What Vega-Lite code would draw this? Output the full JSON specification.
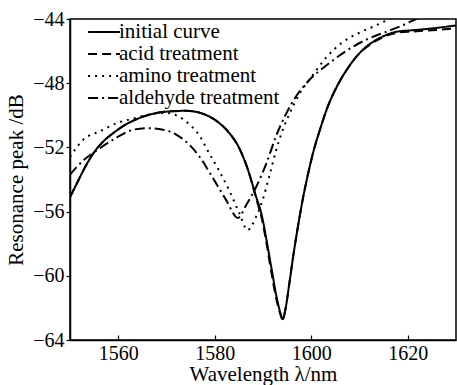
{
  "$schema": "https://vega.github.io/schema/vega-lite/v6.json",
  "width": 386,
  "height": 321,
  "autosize": {"type": "none"},
  "padding": {"left": 70, "top": 19, "right": 1, "bottom": 45},
  "background": "white",
  "config": {
    "view": {"stroke": "black", "strokeWidth": 1.5},
    "axis": {
      "labelColor": "black",
      "titleColor": "black",
      "domainColor": "black",
      "tickColor": "black",
      "grid": false,
      "domainWidth": 1.5,
      "tickWidth": 1.2
    }
  },
  "data": {
    "values": [
      {"s": "initial curve", "x": 1550, "y": -55.1},
      {"s": "initial curve", "x": 1551.5, "y": -54.2},
      {"s": "initial curve", "x": 1553, "y": -53.3},
      {"s": "initial curve", "x": 1555, "y": -52.3},
      {"s": "initial curve", "x": 1557, "y": -51.6},
      {"s": "initial curve", "x": 1559, "y": -51.1},
      {"s": "initial curve", "x": 1562, "y": -50.5},
      {"s": "initial curve", "x": 1565, "y": -50.1},
      {"s": "initial curve", "x": 1568, "y": -49.85},
      {"s": "initial curve", "x": 1571, "y": -49.75},
      {"s": "initial curve", "x": 1574, "y": -49.72},
      {"s": "initial curve", "x": 1577, "y": -49.85},
      {"s": "initial curve", "x": 1579, "y": -50.1},
      {"s": "initial curve", "x": 1581, "y": -50.5},
      {"s": "initial curve", "x": 1583, "y": -51.1},
      {"s": "initial curve", "x": 1585, "y": -52.0},
      {"s": "initial curve", "x": 1587, "y": -53.5},
      {"s": "initial curve", "x": 1588.5, "y": -55.0},
      {"s": "initial curve", "x": 1589.8, "y": -56.3},
      {"s": "initial curve", "x": 1590.8, "y": -57.9},
      {"s": "initial curve", "x": 1591.8, "y": -59.6},
      {"s": "initial curve", "x": 1592.8, "y": -61.3},
      {"s": "initial curve", "x": 1593.6, "y": -62.3},
      {"s": "initial curve", "x": 1594.1, "y": -62.7},
      {"s": "initial curve", "x": 1594.7, "y": -62.0},
      {"s": "initial curve", "x": 1595.4, "y": -60.6},
      {"s": "initial curve", "x": 1596.3, "y": -58.7},
      {"s": "initial curve", "x": 1597.2, "y": -57.0},
      {"s": "initial curve", "x": 1598.2, "y": -55.3},
      {"s": "initial curve", "x": 1599.3, "y": -53.7},
      {"s": "initial curve", "x": 1600.5, "y": -52.2},
      {"s": "initial curve", "x": 1601.8, "y": -50.9},
      {"s": "initial curve", "x": 1603.5, "y": -49.4},
      {"s": "initial curve", "x": 1605.5, "y": -48.1},
      {"s": "initial curve", "x": 1607.5, "y": -47.1},
      {"s": "initial curve", "x": 1609.5, "y": -46.3},
      {"s": "initial curve", "x": 1611.5, "y": -45.7},
      {"s": "initial curve", "x": 1613.5, "y": -45.3},
      {"s": "initial curve", "x": 1615.5, "y": -45.0},
      {"s": "initial curve", "x": 1618, "y": -44.78},
      {"s": "initial curve", "x": 1621, "y": -44.7},
      {"s": "initial curve", "x": 1624, "y": -44.62},
      {"s": "initial curve", "x": 1627, "y": -44.52},
      {"s": "initial curve", "x": 1630, "y": -44.4},

      {"s": "acid treatment", "x": 1550, "y": -55.1},
      {"s": "acid treatment", "x": 1551.5, "y": -54.2},
      {"s": "acid treatment", "x": 1553, "y": -53.3},
      {"s": "acid treatment", "x": 1555, "y": -52.3},
      {"s": "acid treatment", "x": 1557, "y": -51.6},
      {"s": "acid treatment", "x": 1559, "y": -51.1},
      {"s": "acid treatment", "x": 1562, "y": -50.5},
      {"s": "acid treatment", "x": 1565, "y": -50.1},
      {"s": "acid treatment", "x": 1568, "y": -49.85},
      {"s": "acid treatment", "x": 1571, "y": -49.75},
      {"s": "acid treatment", "x": 1574, "y": -49.72},
      {"s": "acid treatment", "x": 1577, "y": -49.85},
      {"s": "acid treatment", "x": 1579, "y": -50.1},
      {"s": "acid treatment", "x": 1581, "y": -50.5},
      {"s": "acid treatment", "x": 1583, "y": -51.1},
      {"s": "acid treatment", "x": 1585, "y": -52.0},
      {"s": "acid treatment", "x": 1587, "y": -53.5},
      {"s": "acid treatment", "x": 1588.5, "y": -55.1},
      {"s": "acid treatment", "x": 1589.8, "y": -56.5},
      {"s": "acid treatment", "x": 1590.8, "y": -58.1},
      {"s": "acid treatment", "x": 1591.8, "y": -59.9},
      {"s": "acid treatment", "x": 1592.8, "y": -61.5},
      {"s": "acid treatment", "x": 1593.6, "y": -62.4},
      {"s": "acid treatment", "x": 1594.0, "y": -62.7},
      {"s": "acid treatment", "x": 1594.7, "y": -62.0},
      {"s": "acid treatment", "x": 1595.4, "y": -60.6},
      {"s": "acid treatment", "x": 1596.3, "y": -58.7},
      {"s": "acid treatment", "x": 1597.2, "y": -57.0},
      {"s": "acid treatment", "x": 1598.2, "y": -55.3},
      {"s": "acid treatment", "x": 1599.3, "y": -53.7},
      {"s": "acid treatment", "x": 1600.5, "y": -52.2},
      {"s": "acid treatment", "x": 1601.8, "y": -50.9},
      {"s": "acid treatment", "x": 1603.5, "y": -49.4},
      {"s": "acid treatment", "x": 1605.5, "y": -48.1},
      {"s": "acid treatment", "x": 1607.5, "y": -47.1},
      {"s": "acid treatment", "x": 1609.5, "y": -46.3},
      {"s": "acid treatment", "x": 1611.5, "y": -45.75},
      {"s": "acid treatment", "x": 1613.5, "y": -45.35},
      {"s": "acid treatment", "x": 1615.5, "y": -45.05},
      {"s": "acid treatment", "x": 1618, "y": -44.85},
      {"s": "acid treatment", "x": 1621, "y": -44.78},
      {"s": "acid treatment", "x": 1624, "y": -44.72},
      {"s": "acid treatment", "x": 1627, "y": -44.66},
      {"s": "acid treatment", "x": 1630, "y": -44.58},

      {"s": "amino treatment", "x": 1550, "y": -52.6},
      {"s": "amino treatment", "x": 1552.8, "y": -51.5},
      {"s": "amino treatment", "x": 1556.2, "y": -51.0},
      {"s": "amino treatment", "x": 1559.6, "y": -50.5},
      {"s": "amino treatment", "x": 1563.1, "y": -50.2},
      {"s": "amino treatment", "x": 1566.5, "y": -49.95},
      {"s": "amino treatment", "x": 1570, "y": -49.85},
      {"s": "amino treatment", "x": 1572, "y": -50.0},
      {"s": "amino treatment", "x": 1574.1, "y": -50.4},
      {"s": "amino treatment", "x": 1576.9, "y": -51.3},
      {"s": "amino treatment", "x": 1578.9, "y": -52.4},
      {"s": "amino treatment", "x": 1581, "y": -53.5},
      {"s": "amino treatment", "x": 1583.1, "y": -54.75},
      {"s": "amino treatment", "x": 1585.1, "y": -56.1},
      {"s": "amino treatment", "x": 1586.8, "y": -57.15},
      {"s": "amino treatment", "x": 1588.6, "y": -56.3},
      {"s": "amino treatment", "x": 1589.9, "y": -55.3},
      {"s": "amino treatment", "x": 1591.3, "y": -53.8},
      {"s": "amino treatment", "x": 1592.7, "y": -52.2},
      {"s": "amino treatment", "x": 1594.1, "y": -50.9},
      {"s": "amino treatment", "x": 1595.5, "y": -49.9},
      {"s": "amino treatment", "x": 1597.5, "y": -48.7},
      {"s": "amino treatment", "x": 1600.3, "y": -47.5},
      {"s": "amino treatment", "x": 1603.1, "y": -46.4},
      {"s": "amino treatment", "x": 1606.5, "y": -45.45},
      {"s": "amino treatment", "x": 1610, "y": -44.85},
      {"s": "amino treatment", "x": 1613.4, "y": -44.4},
      {"s": "amino treatment", "x": 1616.2, "y": -44.0},
      {"s": "amino treatment", "x": 1620, "y": -43.5},

      {"s": "aldehyde treatment", "x": 1550, "y": -53.7},
      {"s": "aldehyde treatment", "x": 1552.8, "y": -52.8},
      {"s": "aldehyde treatment", "x": 1555.5, "y": -52.2},
      {"s": "aldehyde treatment", "x": 1559.6, "y": -51.4},
      {"s": "aldehyde treatment", "x": 1563.1, "y": -50.9},
      {"s": "aldehyde treatment", "x": 1565.9, "y": -50.8},
      {"s": "aldehyde treatment", "x": 1569.3, "y": -50.9},
      {"s": "aldehyde treatment", "x": 1572, "y": -51.2},
      {"s": "aldehyde treatment", "x": 1574.8, "y": -51.85},
      {"s": "aldehyde treatment", "x": 1576.9, "y": -52.6},
      {"s": "aldehyde treatment", "x": 1579.6, "y": -53.9},
      {"s": "aldehyde treatment", "x": 1582.4, "y": -55.3},
      {"s": "aldehyde treatment", "x": 1584.8, "y": -56.4},
      {"s": "aldehyde treatment", "x": 1586.5, "y": -55.6},
      {"s": "aldehyde treatment", "x": 1588.6, "y": -54.45},
      {"s": "aldehyde treatment", "x": 1590.7, "y": -53.0},
      {"s": "aldehyde treatment", "x": 1592.7, "y": -51.3},
      {"s": "aldehyde treatment", "x": 1594.8, "y": -49.9},
      {"s": "aldehyde treatment", "x": 1596.9, "y": -48.8},
      {"s": "aldehyde treatment", "x": 1599.6, "y": -47.8},
      {"s": "aldehyde treatment", "x": 1603.1, "y": -46.9},
      {"s": "aldehyde treatment", "x": 1607.2, "y": -46.0},
      {"s": "aldehyde treatment", "x": 1611.3, "y": -45.3},
      {"s": "aldehyde treatment", "x": 1615.5, "y": -44.8},
      {"s": "aldehyde treatment", "x": 1618.9, "y": -44.4},
      {"s": "aldehyde treatment", "x": 1621.7, "y": -44.0},
      {"s": "aldehyde treatment", "x": 1625, "y": -43.6}
    ]
  },
  "mark": {"type": "line", "color": "black", "strokeWidth": 2, "clip": true, "interpolate": "monotone"},
  "encoding": {
    "x": {
      "field": "x", "type": "quantitative",
      "scale": {"domain": [1550, 1630], "nice": false, "zero": false},
      "axis": {
        "title": "Wavelength λ/nm",
        "titleFont": "Times New Roman", "titleFontSize": 21, "titleFontWeight": "normal",
        "labelFont": "Times New Roman", "labelFontSize": 20,
        "values": [1560, 1580, 1600, 1620], "tickSize": -5, "labelPadding": 8, "titlePadding": 0, "format": "d"
      }
    },
    "y": {
      "field": "y", "type": "quantitative",
      "scale": {"domain": [-64, -44], "nice": false, "zero": false},
      "axis": {
        "title": "Resonance peak /dB",
        "titleFont": "Times New Roman", "titleFontSize": 21, "titleFontWeight": "normal",
        "labelFont": "Times New Roman", "labelFontSize": 20,
        "values": [-64, -60, -56, -52, -48, -44], "tickSize": 4, "labelPadding": 2, "titlePadding": 6
      }
    },
    "strokeDash": {
      "field": "s", "type": "nominal",
      "scale": {
        "domain": ["initial curve", "acid treatment", "amino treatment", "aldehyde treatment"],
        "range": [[1, 0], [9, 5], [2, 5], [10, 4, 2, 4]]
      },
      "legend": {
        "title": null,
        "orient": "none",
        "legendX": 34,
        "legendY": 2.5,
        "padding": 0,
        "labelFont": "Times New Roman",
        "labelFontSize": 21,
        "labelColor": "black",
        "labelLimit": 400,
        "symbolType": "M-4.8,0H1",
        "symbolSize": 121,
        "symbolStrokeWidth": 2,
        "symbolStrokeColor": "black",
        "labelOffset": -6,
        "rowPadding": 0
      }
    }
  }
}
